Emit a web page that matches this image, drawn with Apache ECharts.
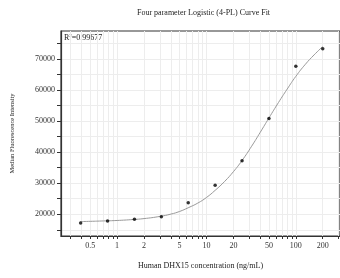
<!DOCTYPE html>
<html>
<head>
<meta charset="utf-8">
<script src="https://cdn.jsdelivr.net/npm/echarts@6/dist/echarts.min.js"></script>
<style>html,body{margin:0;padding:0;background:#fff}#c{width:340px;height:278px}</style>
</head>
<body>
<div id="c"></div>
<script>
// measured standards
const conc = [0.390625, 0.78125, 1.5625, 3.125, 6.25, 12.5, 25, 50, 100, 200];
const mfi = [17200, 17850, 18400, 19230, 23700, 29300, 37250, 50800, 67650, 73300];
// fitted 4-PL curve
const curveX = [0.39, 0.5, 0.7, 1, 1.5, 2, 3, 4, 5, 6.25, 8, 10, 12.5, 16, 20, 25, 32, 40, 50, 64, 80, 100, 128, 160, 200];
const curveY = [17650, 17720, 17850, 18000, 18300, 18600, 19300, 20050, 20900, 22100, 23600, 25400, 27700, 30600, 33700, 37300, 41900, 46400, 51000, 56000, 60300, 64400, 68300, 71300, 74000];
// axis ticks
const xLabelVals = [0.5, 1, 2, 5, 10, 20, 50, 100, 200];
const xTickVals = [0.3, 0.4, 0.5, 0.6, 0.7, 0.8, 0.9, 1, 2, 3, 4, 5, 6, 7, 8, 9, 10, 20, 30, 40, 50, 60, 70, 80, 90, 100, 200, 300];
const yLabelVals = [20000, 30000, 40000, 50000, 60000, 70000];
const yTickVals = [15000, 20000, 25000, 30000, 35000, 40000, 45000, 50000, 55000, 60000, 65000, 70000, 75000];

const titleText = 'Four parameter Logistic (4-PL) Curve Fit';
const xName = 'Human DHX15 concentration (ng/mL)';
const yName = 'Median Fluorescence Intensity';
const r2 = '0.99677';

const serif = '"Liberation Serif", "DejaVu Serif", serif';
const chart = echarts.init(document.getElementById('c'), null, {renderer: 'canvas'});
chart.setOption({
  animation: false,
  backgroundColor: '#fff',
  grid: {left: 61, top: 31, right: -2, bottom: 42, show: true, borderColor: '#333', borderWidth: 1.2, containLabel: false},
  graphic: [
    {type: 'text', left: 137, top: 9, style: {text: titleText, font: '8px ' + serif, fill: '#222'}},
    {type: 'text', left: 64, top: 33, style: {
      text: '{a|R}{s|2}{a|=' + r2 + '}',
      rich: {a: {fontFamily: serif, fontSize: 8, fill: '#222'}, s: {fontFamily: serif, fontSize: 5, fill: '#222', verticalAlign: 'top', padding: [0, 0, 4, 0]}}
    }}
  ],
  xAxis: {
    type: 'log', logBase: 10, min: 0.2355, max: 312,
    name: xName, nameLocation: 'middle', nameGap: 26,
    nameTextStyle: {fontFamily: serif, fontSize: 8, color: '#222'},
    axisLine: {show: true, onZero: false, lineStyle: {color: '#333', width: 1.2}},
    axisTick: {show: true, inside: false, length: 3, customValues: xTickVals, lineStyle: {color: '#333'}},
    axisLabel: {customValues: xLabelVals, fontFamily: serif, fontSize: 8, color: '#333', margin: 6, formatter: v => String(v)},
    splitLine: {show: true, lineStyle: {color: '#ededed', width: 1}},
    minorTick: {show: false}, minorSplitLine: {show: false}
  },
  yAxis: {
    type: 'value', min: 13000, max: 79000,
    name: yName, nameLocation: 'middle', nameGap: 45,
    nameTextStyle: {fontFamily: serif, fontSize: 6.5, color: '#222'},
    axisLine: {show: true, onZero: false, lineStyle: {color: '#333', width: 1.2}},
    axisTick: {show: true, inside: false, length: 4, customValues: yTickVals, lineStyle: {color: '#333'}},
    axisLabel: {customValues: yLabelVals, fontFamily: serif, fontSize: 8, color: '#333', margin: 6, formatter: v => String(v)},
    splitLine: {show: true, lineStyle: {color: '#ededed', width: 1}}
  },
  series: [
    {type: 'line', data: curveX.map((x, i) => [x, curveY[i]]), smooth: true, symbol: 'none',
     lineStyle: {color: '#9a9a9a', width: 1}, z: 2},
    {type: 'scatter', data: conc.map((x, i) => [x, mfi[i]]), symbol: 'circle', symbolSize: 3.5,
     itemStyle: {color: '#000'}, z: 3}
  ]
});
</script>
</body>
</html>
